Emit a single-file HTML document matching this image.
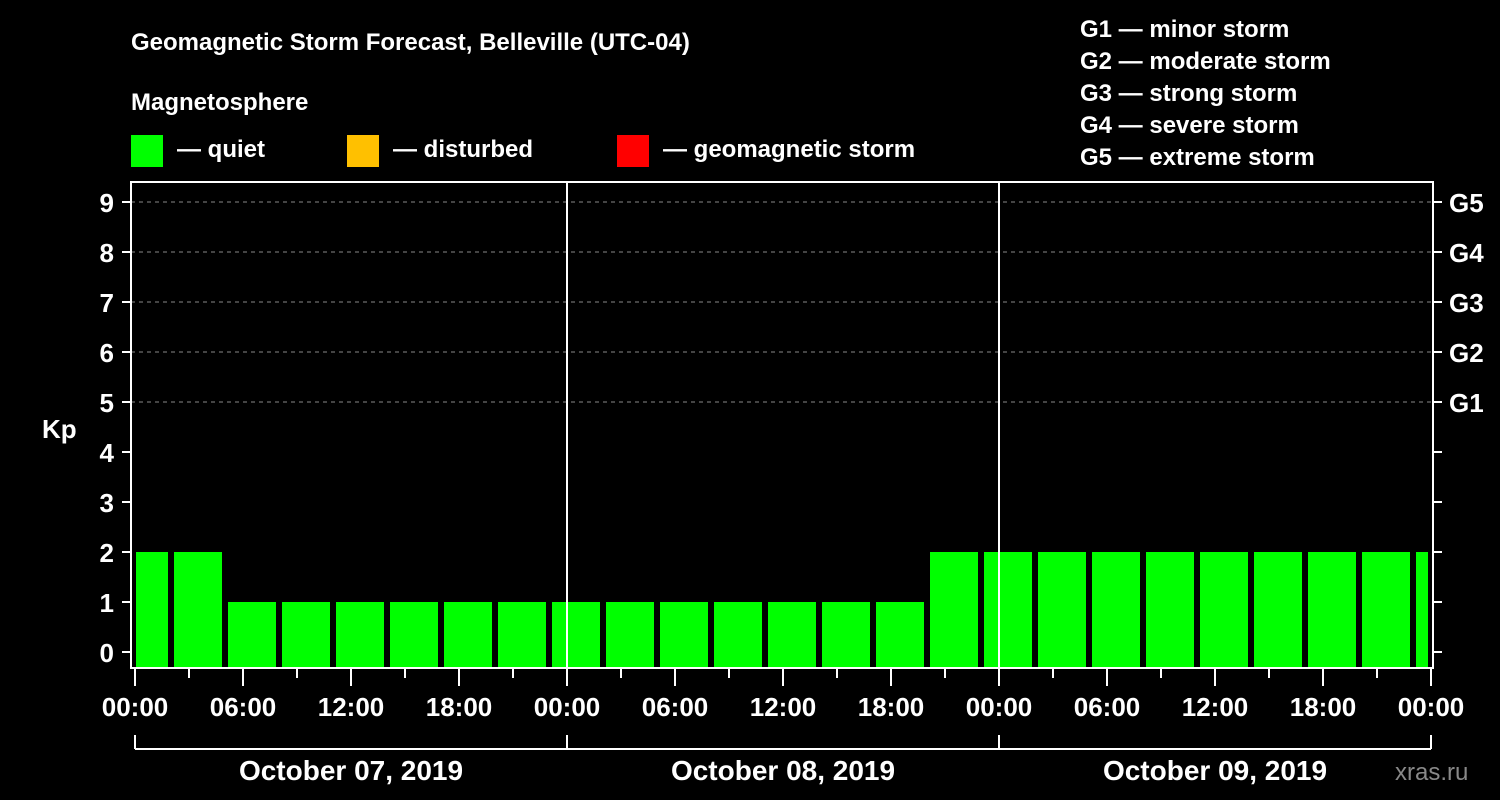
<!DOCTYPE html>
<html><head><meta charset="utf-8"><style>
body{margin:0;background:#000;}
svg{display:block;font-family:"Liberation Sans",sans-serif;font-weight:bold;}
</style></head><body>
<svg width="1500" height="800" xmlns="http://www.w3.org/2000/svg">
<rect width="1500" height="800" fill="#000"/>
<text x="131" y="50" fill="#fff" font-size="24">Geomagnetic Storm Forecast, Belleville (UTC-04)</text>
<text x="131" y="110" fill="#fff" font-size="24">Magnetosphere</text>
<g><rect x="131" y="135" width="32" height="32" fill="#00ff00"/><text x="177" y="157" fill="#fff" font-size="24">— quiet</text></g>
<g><rect x="347" y="135" width="32" height="32" fill="#ffc000"/><text x="393" y="157" fill="#fff" font-size="24">— disturbed</text></g>
<g><rect x="617" y="135" width="32" height="32" fill="#ff0000"/><text x="663" y="157" fill="#fff" font-size="24">— geomagnetic storm</text></g>
<g fill="#fff" font-size="24">
<text x="1080" y="37">G1 — minor storm</text>
<text x="1080" y="69">G2 — moderate storm</text>
<text x="1080" y="101">G3 — strong storm</text>
<text x="1080" y="133">G4 — severe storm</text>
<text x="1080" y="165">G5 — extreme storm</text>
</g>
<text x="42" y="438" fill="#fff" font-size="26">Kp</text>
<text x="1395" y="780" fill="#888" font-size="24" font-weight="normal">xras.ru</text>
<g id="grid"></g>
<g id="bars"></g>
<g id="axes"></g>
</svg>
<script>
const kpValues=[2,2,1,1,1,1,1,1,1,1,1,1,1,1,1,2,2,2,2,2,2,2,2,2,2];
const yTicks=[0,1,2,3,4,5,6,7,8,9];
const gLabels=["G1","G2","G3","G4","G5"];
const gLevels=[5,6,7,8,9];
const xTickLabels=["00:00","06:00","12:00","18:00","00:00","06:00","12:00","18:00","00:00","06:00","12:00","18:00","00:00"];
const dayLabels=["October 07, 2019","October 08, 2019","October 09, 2019"];
const NS="http://www.w3.org/2000/svg";
const L=131,R=1433,T=182,B=668,X0=135,PXH=18;
const x=h=>X0+h*PXH, y=v=>652-v*50;
function mk(tag,attrs,parent,txt){const e=document.createElementNS(NS,tag);for(const k in attrs)e.setAttribute(k,attrs[k]);if(txt!==undefined)e.textContent=txt;parent.appendChild(e);return e;}
const grid=document.getElementById('grid'),bars=document.getElementById('bars'),axes=document.getElementById('axes');
gLevels.forEach((g,i)=>{
 const ln=mk('line',{x1:L,x2:R,y1:y(g),y2:y(g),stroke:'#888','stroke-dasharray':'4,4','stroke-width':1},grid);
 
 
 const t=mk('text',{x:1449,y:y(g)+10,fill:'#fff','font-size':26},axes,gLabels[i]);
 
 
});
kpValues.forEach((v,i)=>{
 const c=x(3*i+0.5);let x1=Math.max(c-24,L+5),x2=Math.min(c+24,R-5);
 const col=v>=5?'#ff0000':(v>=4?'#ffc000':'#00ff00');
 const r=mk('rect',{x:x1,y:y(v),width:x2-x1,height:B-y(v),fill:col},bars);
 
 
});
[1,2].forEach(d=>{const ln=mk('line',{x1:x(24*d),x2:x(24*d),y1:T,y2:B,stroke:'#fff','stroke-width':2},axes);
 
 });
const box=mk('rect',{x:L,y:T,width:R-L,height:B-T,fill:'none',stroke:'#fff','stroke-width':2},axes);


yTicks.forEach(v=>{
 mk('line',{x1:122,x2:L,y1:y(v),y2:y(v),stroke:'#fff','stroke-width':2},axes);
 mk('line',{x1:R,x2:1442,y1:y(v),y2:y(v),stroke:'#fff','stroke-width':2},axes);
 const t=mk('text',{x:114,y:y(v)+10,fill:'#fff','font-size':26,'text-anchor':'end'},axes,String(v));
 
 
});
for(let h=0;h<=72;h+=3){const major=h%6===0;
 mk('line',{x1:x(h),x2:x(h),y1:B,y2:major?686:678,stroke:'#fff','stroke-width':2},axes);}
xTickLabels.forEach((s,i)=>{const t=mk('text',{x:x(6*i),y:716,fill:'#fff','font-size':26,'text-anchor':'middle'},axes,s);
 
 });
mk('line',{x1:x(0),x2:x(72),y1:749,y2:749,stroke:'#fff','stroke-width':2},axes);
for(let d=0;d<=3;d++)mk('line',{x1:x(24*d),x2:x(24*d),y1:735,y2:749,stroke:'#fff','stroke-width':2},axes);
dayLabels.forEach((s,i)=>{const t=mk('text',{x:x(24*i+12),y:780,fill:'#fff','font-size':28,'text-anchor':'middle'},axes,s);
 
 });
</script>
</body></html>
